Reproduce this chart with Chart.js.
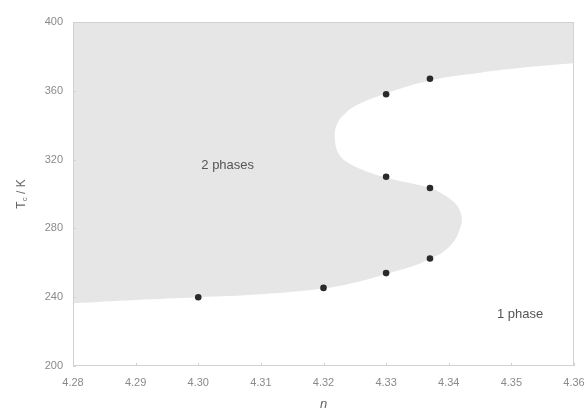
<!DOCTYPE html>
<html>
<head>
<meta charset="utf-8">
<script src="https://cdn.jsdelivr.net/npm/chart.js@4/dist/chart.umd.min.js"></script>
<style>
  html, body { margin: 0; padding: 0; background: #fff; }
  #wrap { width: 587px; height: 410px; }
</style>
</head>
<body>
<div id="wrap"><canvas id="chart" width="587" height="410"></canvas></div>
<script>
// phase boundary, traced from left edge round the S-bend
const nBoundary = [4.28, 4.29, 4.30, 4.31, 4.32, 4.325, 4.33, 4.335, 4.337, 4.339, 4.3409, 4.3418,
                   4.3421, 4.3418, 4.3409, 4.339, 4.337, 4.333, 4.33, 4.327, 4.3245, 4.3225, 4.3218,
                   4.3222, 4.3235, 4.3255, 4.33, 4.337, 4.345, 4.352, 4.36];
const tBoundary = [236.5, 238.4, 240, 241.7, 245, 248.5, 253.5, 259, 262.5, 266, 273, 280,
                   285, 290, 295, 300, 303.5, 307, 309.5, 313, 317, 323, 333,
                   341, 347, 352, 358.5, 366, 370.5, 373.5, 376];

// measured points
const nPoints = [4.30, 4.32, 4.33, 4.337, 4.33, 4.337, 4.33, 4.337];
const tPoints = [240, 245.4, 254, 262.5, 310, 303.5, 358, 367];

// region labels
const regionText = ['2 phases', '1 phase'];
const regionN = [4.3047, 4.3514];
const regionT = [316.5, 230];

const xTicks = [4.28, 4.29, 4.30, 4.31, 4.32, 4.33, 4.34, 4.35, 4.36];
const yTicks = [200, 240, 280, 320, 360, 400];

const FONT = '"Liberation Sans", Arial, sans-serif';

const overlay = {
    id: 'overlay',
    afterDraw(chart) {
        const ctx = chart.ctx;
        const a = chart.chartArea;
        const x = chart.scales.x;
        const y = chart.scales.y;
        ctx.save();

        // frame + small inward ticks
        ctx.strokeStyle = '#d2d2d2';
        ctx.lineWidth = 1;
        ctx.strokeRect(a.left + 0.5, a.top + 0.5, a.width - 1, a.height - 1);
        ctx.beginPath();
        x.ticks.forEach((t, i) => {
            const px = Math.round(x.getPixelForTick(i)) + 0.5;
            ctx.moveTo(px, a.bottom);
            ctx.lineTo(px, a.bottom - 3);
        });
        y.ticks.forEach((t, i) => {
            const py = Math.round(y.getPixelForTick(i)) + 0.5;
            ctx.moveTo(a.left, py);
            ctx.lineTo(a.left + 3, py);
        });
        ctx.stroke();

        // region labels
        ctx.fillStyle = '#555';
        ctx.font = '13px ' + FONT;
        ctx.textAlign = 'center';
        ctx.textBaseline = 'middle';
        regionText.forEach((txt, i) => {
            ctx.fillText(txt, x.getPixelForValue(regionN[i]), y.getPixelForValue(regionT[i]));
        });

        // x title
        ctx.fillStyle = '#666';
        ctx.font = 'italic 13px ' + FONT;
        ctx.fillText('n', (a.left + a.right) / 2, 404);

        // y title with subscript
        ctx.translate(22, (a.top + a.bottom) / 2);
        ctx.rotate(-Math.PI / 2);
        ctx.textAlign = 'left';
        const big = '12px ' + FONT, small = '8px ' + FONT;
        ctx.font = big;
        const wT = ctx.measureText('T').width;
        const wRest = ctx.measureText(' / K').width;
        ctx.font = small;
        const wc = ctx.measureText('c').width;
        let sx = -(wT + wc + wRest) / 2;
        ctx.font = big;
        ctx.fillText('T', sx, 0);
        ctx.font = small;
        ctx.fillText('c', sx + wT, 3);
        ctx.font = big;
        ctx.fillText(' / K', sx + wT + wc, 0);

        ctx.restore();
    }
};

const ctx = document.getElementById('chart');
new Chart(ctx, {
    type: 'line',
    data: {
        datasets: [{
            label: 'boundary',
            data: nBoundary.map((n, i) => ({ x: n, y: tBoundary[i] })),
            fill: 'end',
            backgroundColor: '#e6e6e6',
            borderColor: 'transparent',
            borderWidth: 0,
            pointRadius: 0,
            tension: 0.4,
            order: 2
        }, {
            label: 'points',
            data: nPoints.map((n, i) => ({ x: n, y: tPoints[i] })),
            showLine: false,
            pointRadius: 3.3,
            pointBackgroundColor: '#2a2a2a',
            pointBorderWidth: 0,
            order: 1
        }]
    },
    options: {
        responsive: false,
        animation: false,
        layout: { padding: { top: 22, right: 0, left: 0, bottom: 0 } },
        scales: {
            x: {
                type: 'linear',
                min: 4.28,
                max: 4.36,
                afterBuildTicks: (s) => { s.ticks = xTicks.map(v => ({ value: v })); },
                afterFit: (s) => { s.height = 44; s.paddingRight = 13; },
                grid: { display: false, drawTicks: false },
                border: { display: false },
                ticks: {
                    padding: 10,
                    color: '#8a8a8a',
                    font: { family: FONT, size: 11 },
                    maxRotation: 0,
                    callback: (v) => Number(v).toFixed(2)
                }
            },
            y: {
                type: 'linear',
                min: 200,
                max: 400,
                afterBuildTicks: (s) => { s.ticks = yTicks.map(v => ({ value: v })); },
                afterFit: (s) => { s.width = 73; },
                grid: { display: false, drawTicks: false },
                border: { display: false },
                ticks: {
                    padding: 10,
                    color: '#8a8a8a',
                    font: { family: FONT, size: 11 }
                }
            }
        },
        plugins: {
            legend: { display: false },
            tooltip: { enabled: false }
        }
    },
    plugins: [overlay]
});
</script>
</body>
</html>
